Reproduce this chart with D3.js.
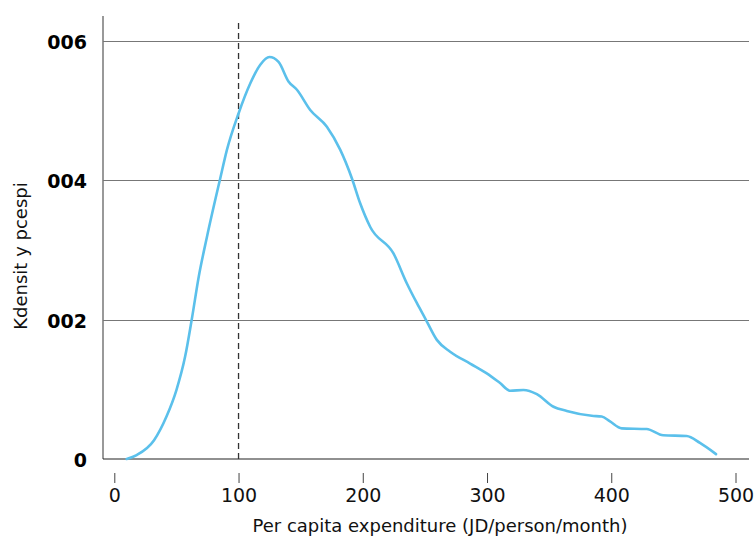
<!DOCTYPE html>
<html>
<head>
<meta charset="utf-8">
<script src="https://cdn.jsdelivr.net/npm/d3@7"></script>
<style>
  body { margin: 0; background: #fff; }
  svg { font-family: "DejaVu Sans", Verdana, sans-serif; }
</style>
</head>
<body>
<div id="chart"></div>
<script>
"use strict";

// expenditure (JD/person/month)
var xValues = [10, 18, 32, 42, 50, 57, 62.5, 68, 74.6, 85.3, 90.7, 100, 109.4, 117.5, 124.9, 132.2,
    140.2, 147, 157.7, 171.1, 181.8, 191.2, 197.9, 206, 224.7, 235.5, 243.5, 250.2, 259.6, 270.3,
    286.4, 299.8, 310.5, 318.6, 329.3, 340.1, 353.5, 364.2, 384.3, 392.3, 399, 408.4, 428.5,
    441.8, 460.7, 471.4, 484.3];

// kernel density
var densityValues = [0, 0.000057, 0.00027, 0.00061, 0.00099, 0.00147, 0.00202, 0.00262, 0.00319,
    0.00403, 0.00444, 0.00496, 0.00539, 0.00566, 0.00577, 0.0057, 0.00542, 0.0053, 0.00501,
    0.00477, 0.00444, 0.00403, 0.00367, 0.00333, 0.00295, 0.00252, 0.00224, 0.00202, 0.00171,
    0.00154, 0.00137, 0.00123, 0.00109, 0.00098, 0.00099, 0.00093, 0.00075, 0.00069, 0.00062,
    0.00061, 0.00054, 0.00044, 0.00043, 0.00034, 0.00033, 0.00023, 0.00007];

var xTicks = [0, 100, 200, 300, 400, 500];
var yTicks = [0, 0.002, 0.004, 0.006];
var yTickLabels = ["0", "002", "004", "006"];
var cutoff = 100;

var data = xValues.map((x, i) => ({ x: x, y: densityValues[i] }));

var width = 756, height = 540;

var svg = d3.select("#chart")
    .append("svg")
    .attr("width", width)
    .attr("height", height);

// scales
var x = d3.scaleLinear()
    .domain([0, 500])
    .range([114.3, 735.5]);

var y = d3.scaleLinear()
    .domain([0, 0.006])
    .range([459, 41]);

// gridlines
svg.append("g")
    .selectAll("line")
    .data(yTicks.filter(d => d > 0))
    .join("line")
    .attr("x1", 103)
    .attr("x2", 749)
    .attr("y1", d => Math.round(y(d)) + 0.5)
    .attr("y2", d => Math.round(y(d)) + 0.5)
    .attr("stroke", "#777")
    .attr("stroke-width", 1);

// y axis line
svg.append("line")
    .attr("x1", 103).attr("x2", 103)
    .attr("y1", 16).attr("y2", 459)
    .attr("stroke", "#777")
    .attr("stroke-width", 1.5);

// baseline
svg.append("line")
    .attr("x1", 103).attr("x2", 749)
    .attr("y1", y(0)).attr("y2", y(0))
    .attr("stroke", "#222")
    .attr("stroke-width", 1.2);

// y labels
svg.append("g")
    .selectAll("text")
    .data(yTicks)
    .join("text")
    .attr("x", 87)
    .attr("y", d => y(d) + 8)
    .attr("text-anchor", "end")
    .style("font-size", "19px")
    .style("font-weight", "bold")
    .text((d, i) => yTickLabels[i]);

// x axis (detached ticks)
var xAxis = svg.append("g")
    .attr("transform", "translate(0,473)")
    .call(d3.axisBottom(x).tickValues(xTicks).tickSize(10).tickPadding(6).tickFormat(d3.format("d")));

xAxis.select(".domain").remove();
xAxis.selectAll(".tick line").attr("stroke", "#444");
xAxis.selectAll("text")
    .style("font-family", "DejaVu Sans, Verdana, sans-serif")
    .style("font-size", "19px")
    .attr("fill", "#111");

// axis titles
svg.append("text")
    .attr("x", 440)
    .attr("y", 532)
    .attr("text-anchor", "middle")
    .style("font-size", "18px")
    .attr("fill", "#111")
    .text("Per capita expenditure (JD/person/month)");

svg.append("text")
    .attr("transform", "rotate(-90)")
    .attr("x", -256)
    .attr("y", 27)
    .attr("text-anchor", "middle")
    .style("font-size", "18px")
    .attr("fill", "#111")
    .text("Kdensit y pcespi");

// cutoff line
svg.append("line")
    .attr("x1", x(cutoff)).attr("x2", x(cutoff))
    .attr("y1", 23).attr("y2", y(0))
    .attr("stroke", "#333")
    .attr("stroke-width", 1.3)
    .attr("stroke-dasharray", "6,4");

// density line
var line = d3.line()
    .x(d => x(d.x))
    .y(d => y(d.y))
    .curve(d3.curveMonotoneX);

svg.append("path")
    .datum(data)
    .attr("fill", "none")
    .attr("stroke", "#5bc0eb")
    .attr("stroke-width", 2.6)
    .attr("stroke-linecap", "round")
    .attr("d", line);
</script>
</body>
</html>
